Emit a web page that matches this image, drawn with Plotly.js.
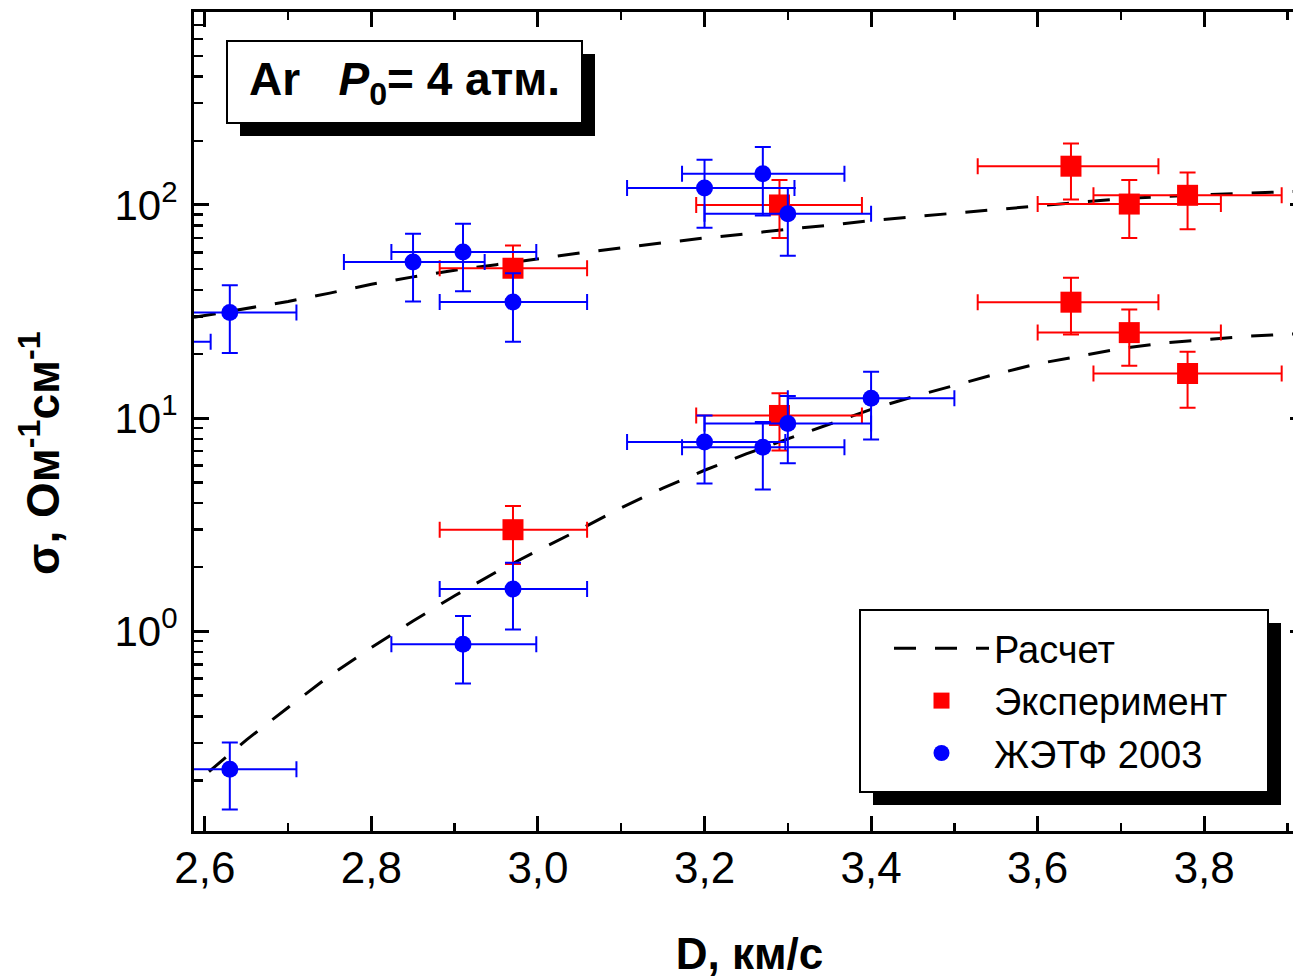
<!DOCTYPE html>
<html>
<head>
<meta charset="utf-8">
<script src="https://cdn.plot.ly/plotly-3.0.1.min.js"></script>
<style>
  html, body { margin: 0; padding: 0; background: #fff; overflow: hidden; width: 1293px; height: 978px; }
  #chart { width: 1310px; height: 978px; }
</style>
</head>
<body>
<div id="chart"></div>
<script>
// ---- Data ----
// "Расчет" (calculation) curves
const calcUpX = [2.587, 2.65, 2.70, 2.75, 2.80, 2.85, 2.90, 2.95, 3.00, 3.05, 3.10, 3.15, 3.20, 3.25, 3.30, 3.35, 3.40, 3.45, 3.50, 3.55, 3.60, 3.65, 3.70, 3.75, 3.80, 3.85, 3.92];
const calcUpY = [29.7, 32.7, 35.3, 38.6, 42.5, 46.0, 49.4, 52.5, 56, 59.5, 63, 66.5, 70, 73.2, 77, 80.3, 84.5, 88, 91.5, 95.5, 99.5, 103.5, 107, 109.5, 112, 113.7, 116];
const calcLoX = [2.605, 2.65, 2.70, 2.75, 2.80, 2.85, 2.90, 2.95, 3.00, 3.05, 3.10, 3.15, 3.20, 3.25, 3.30, 3.35, 3.40, 3.45, 3.50, 3.55, 3.60, 3.65, 3.70, 3.75, 3.80, 3.85, 3.92];
const calcLoY = [0.22, 0.31, 0.44, 0.62, 0.84, 1.12, 1.47, 1.9, 2.4, 3.0, 3.8, 4.7, 5.7, 6.8, 8.0, 9.4, 11.0, 12.6, 14.3, 16.1, 18.0, 19.6, 21.2, 22.5, 23.4, 24.2, 25.0];

// "Эксперимент" (experiment)
const expX   = [2.97, 3.29, 3.64, 3.71, 3.78, 2.97, 3.29, 3.64, 3.71, 3.78];
const expY   = [50.5, 100, 152, 101, 111, 3.0, 10.3, 35, 25.2, 16.2];
const expYHi = [64.5, 131, 194, 131, 142, 3.87, 13.1, 45.6, 32.3, 20.5];
const expYLo = [36, 70, 106, 70, 77, 2.07, 7.05, 24.7, 17.6, 11.2];
const expXLo = [2.882, 3.19, 3.528, 3.60, 3.667, 2.882, 3.19, 3.528, 3.60, 3.667];
const expXHi = [3.059, 3.389, 3.745, 3.82, 3.893, 3.059, 3.389, 3.745, 3.82, 3.893];

// "ЖЭТФ 2003"
const jetpX   = [2.53, 2.63, 2.85, 2.91, 2.97, 3.20, 3.27, 3.30, 2.63, 2.91, 2.97, 3.20, 3.27, 3.30, 3.40];
const jetpY   = [22.8, 31.3, 54, 60.2, 35.1, 120, 140, 91, 0.226, 0.87, 1.58, 7.74, 7.3, 9.44, 12.4];
const jetpYHi = [30, 42, 73.3, 81.6, 47.8, 163, 187, 120, 0.301, 1.18, 2.1, 10.3, 9.6, 12.7, 16.5];
const jetpYLo = [15, 20.2, 35.3, 39.4, 22.8, 78.2, 89.3, 57.8, 0.146, 0.57, 1.02, 4.94, 4.63, 6.14, 7.94];
const jetpXLo = [2.452, 2.55, 2.767, 2.824, 2.882, 3.107, 3.173, 3.20, 2.55, 2.824, 2.882, 3.107, 3.173, 3.20, 3.30];
const jetpXHi = [2.607, 2.71, 2.936, 2.998, 3.059, 3.308, 3.368, 3.40, 2.71, 2.998, 3.059, 3.297, 3.368, 3.40, 3.50];

// Tick labels
const xTickVals = [2.6, 2.8, 3.0, 3.2, 3.4, 3.6, 3.8];
const xTickText = ['2,6', '2,8', '3,0', '3,2', '3,4', '3,6', '3,8'];
const xMinorVals = [2.7, 2.9, 3.1, 3.3, 3.5, 3.7, 3.9];
const yTickVals = [1, 10, 100];
const yTickText = ['10<sup>0</sup>', '10<sup>1</sup>', '10<sup>2</sup>'];
const yMinorVals = [0.2, 0.3, 0.4, 0.5, 0.6, 0.7, 0.8, 0.9, 2, 3, 4, 5, 6, 7, 8, 9, 20, 30, 40, 50, 60, 70, 80, 90, 200, 300, 400, 500, 600, 700, 800];

// Text
const seriesNames = ['Расчет', 'Эксперимент', 'ЖЭТФ 2003'];
const xTitle = '<b>D, км/с</b>';
const yTitle = '<b>σ, Ом<sup>-1</sup>см<sup>-1</sup></b>';
const boxText = '<b>Ar\u00A0\u00A0\u00A0<i>P</i><sub>0</sub>= 4 атм.</b>';

// ---- Build ----
const FONT = 'Arial, "Liberation Sans", sans-serif';
const diff = (a, b) => a.map((v, i) => v - b[i]);

const traces = [
  { x: calcUpX, y: calcUpY, mode: 'lines', name: seriesNames[0], legendrank: 1,
    line: { color: '#000', width: 3, dash: '22px,19px' }, hoverinfo: 'skip' },
  { x: calcLoX, y: calcLoY, mode: 'lines', name: seriesNames[0], showlegend: false,
    line: { color: '#000', width: 3, dash: '22px,19px' }, hoverinfo: 'skip' },
  { x: expX, y: expY, mode: 'markers', name: seriesNames[1], legendrank: 2,
    marker: { symbol: 'square', size: 21, color: '#ff0000' },
    error_y: { type: 'data', symmetric: false, array: diff(expYHi, expY), arrayminus: diff(expY, expYLo), color: '#ff0000', thickness: 2, width: 8 },
    error_x: { type: 'data', symmetric: false, array: diff(expXHi, expX), arrayminus: diff(expX, expXLo), color: '#ff0000', thickness: 2, width: 8 } },
  { x: jetpX, y: jetpY, mode: 'markers', name: seriesNames[2], legendrank: 3,
    marker: { symbol: 'circle', size: 17, color: '#0000ff' },
    error_y: { type: 'data', symmetric: false, array: diff(jetpYHi, jetpY), arrayminus: diff(jetpY, jetpYLo), color: '#0000ff', thickness: 2, width: 8 },
    error_x: { type: 'data', symmetric: false, array: diff(jetpXHi, jetpX), arrayminus: diff(jetpX, jetpXLo), color: '#0000ff', thickness: 2, width: 8 } }
];

// paper-coordinate helpers (plot area: x 194..1305 px, y 12..831 px)
const PX0 = 194, PX1 = 1305, PY0 = 12, PY1 = 831;
const px = v => (v - PX0) / (PX1 - PX0);
const py = v => (PY1 - v) / (PY1 - PY0);

const boxShapes = [
  // title box shadow + box
  { type: 'rect', xref: 'paper', yref: 'paper', x0: px(240), x1: px(595), y0: py(136), y1: py(54), fillcolor: '#000', line: { width: 0 }, layer: 'above' },
  { type: 'rect', xref: 'paper', yref: 'paper', x0: px(227), x1: px(582), y0: py(123), y1: py(41), fillcolor: '#fff', line: { color: '#000', width: 2 }, layer: 'above' },
  // legend box shadow + box
  { type: 'rect', xref: 'paper', yref: 'paper', x0: px(873), x1: px(1281), y0: py(805), y1: py(623), fillcolor: '#000', line: { width: 0 }, layer: 'above' },
  { type: 'rect', xref: 'paper', yref: 'paper', x0: px(860), x1: px(1268), y0: py(792), y1: py(610), fillcolor: '#fff', line: { color: '#000', width: 2 }, layer: 'above' }
];

const layout = {
  width: 1310, height: 978,
  margin: { l: PX0, r: 1310 - PX1, t: PY0, b: 978 - PY1, pad: 0 },
  paper_bgcolor: '#fff', plot_bgcolor: '#fff',
  font: { family: FONT, color: '#000' },
  showlegend: true,
  legend: {
    x: px(889), y: py(617), xanchor: 'left', yanchor: 'top',
    bgcolor: 'rgba(0,0,0,0)', borderwidth: 0,
    font: { family: FONT, size: 38, color: '#000' },
    itemwidth: 95, tracegroupgap: 0, traceorder: 'normal'
  },
  xaxis: {
    range: [2.587, 3.921], showgrid: false, zeroline: false,
    showline: true, linecolor: '#000', linewidth: 3, mirror: 'allticks',
    ticks: 'inside', ticklen: 15, tickwidth: 3, tickcolor: '#000',
    tickmode: 'array', tickvals: xTickVals, ticktext: xTickText,
    tickfont: { family: FONT, size: 44, color: '#000' }, ticklabelstandoff: -4,
    minor: { tickmode: 'array', tickvals: xMinorVals, ticks: 'inside', ticklen: 8, tickwidth: 2.5, tickcolor: '#000', showgrid: false },
    title: { text: xTitle, font: { family: FONT, size: 44, color: '#000' }, standoff: 52 }
  },
  yaxis: {
    type: 'log', range: [-0.936, 2.905], showgrid: false, zeroline: false,
    showline: true, linecolor: '#000', linewidth: 3, mirror: 'allticks',
    ticks: 'inside', ticklen: 15, tickwidth: 3, tickcolor: '#000',
    tickmode: 'array', tickvals: yTickVals, ticktext: yTickText,
    tickfont: { family: FONT, size: 42, color: '#000' }, ticklabelstandoff: 5,
    minor: { tickmode: 'array', tickvals: yMinorVals, ticks: 'inside', ticklen: 9, tickwidth: 2.5, tickcolor: '#000', showgrid: false }
  },
  shapes: boxShapes,
  annotations: [
    { xref: 'paper', yref: 'paper', x: px(404), y: py(82), xanchor: 'center', yanchor: 'middle',
      text: boxText, showarrow: false, font: { family: FONT, size: 46, color: '#000' } },
    // y-axis title
    { xref: 'paper', yref: 'paper', x: px(40), y: py(453), xanchor: 'center', yanchor: 'middle',
      textangle: -90, text: yTitle, showarrow: false, font: { family: FONT, size: 46, color: '#000' } }
  ]
};

Plotly.newPlot('chart', traces, layout, { displayModeBar: false, staticPlot: true });
</script>
</body>
</html>
